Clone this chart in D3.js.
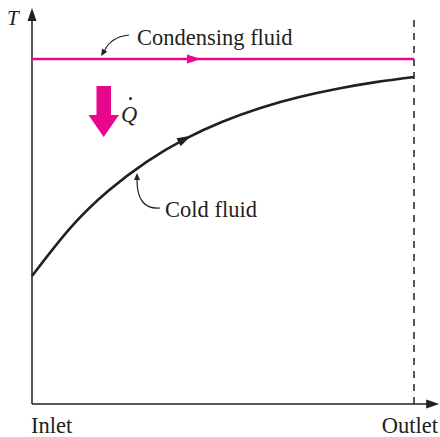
<!DOCTYPE html>
<html>
<head>
<meta charset="utf-8">
<script src="https://cdn.jsdelivr.net/npm/d3@7"></script>
<style>
  body { margin: 0; background: #fff; }
  svg text { font-family: "Liberation Serif", "Times New Roman", serif; fill: #231f20; }
</style>
</head>
<body>
<svg id="chart" width="440" height="437"></svg>
<script>
// position along the exchanger (0 = inlet, 1 = outlet)
var positions = [0, 0.1, 0.2, 0.3, 0.4, 0.5, 0.6, 0.7, 0.8, 0.9, 1];
// cold fluid temperature (arbitrary units)
var coldT = [37.1, 51.0, 61.8, 70.2, 76.8, 81.9, 85.9, 89.0, 91.4, 93.3, 94.8];
// condensing fluid stays at constant temperature
var condPositions = [0, 1];
var condT = [100, 100];
var xLabels = ["Inlet", "Outlet"];
var seriesLabels = ["Condensing fluid", "Cold fluid"];

var magenta = "#e8078a";
var ink = "#231f20";
var fontSize = 22.5;

var svg = d3.select("#chart");

var x = d3.scaleLinear().domain([0, 1]).range([32, 414]);
var y = d3.scaleLinear().domain([0, 100]).range([404, 59]);

var xAxisEnd = 1.066, yAxisEnd = 114.8;

/*
 * axes with arrow heads
 */
svg.append("line")
  .attr("x1", x(0)).attr("y1", y(0))
  .attr("x2", x(0)).attr("y2", y(yAxisEnd) + 10)
  .attr("stroke", ink).attr("stroke-width", 1.5);
svg.append("path")
  .attr("d", "M" + x(0) + "," + y(yAxisEnd) + "l-4.5,13l9,0z")
  .attr("fill", ink);

svg.append("line")
  .attr("x1", x(0)).attr("y1", y(0))
  .attr("x2", x(xAxisEnd) - 10).attr("y2", y(0))
  .attr("stroke", ink).attr("stroke-width", 1.5);
svg.append("path")
  .attr("d", "M" + x(xAxisEnd) + "," + y(0) + "l-13,-4.5l0,9z")
  .attr("fill", ink);

// outlet dashed line
svg.append("line")
  .attr("x1", x(1)).attr("y1", y(0))
  .attr("x2", x(1)).attr("y2", 19)
  .attr("stroke", ink).attr("stroke-width", 1.5)
  .attr("stroke-dasharray", "7,6");

var line = d3.line()
  .x(function(d) { return x(d[0]); })
  .y(function(d) { return y(d[1]); })
  .curve(d3.curveNatural);

// condensing fluid
var condPath = svg.append("path")
  .datum(d3.zip(condPositions, condT))
  .attr("d", line)
  .attr("fill", "none")
  .attr("stroke", magenta)
  .attr("stroke-width", 2.6);

// cold fluid
var coldPath = svg.append("path")
  .datum(d3.zip(positions, coldT))
  .attr("d", line)
  .attr("fill", "none")
  .attr("stroke", ink)
  .attr("stroke-width", 2.6);

/*
 * direction arrow placed on a path, tip at given x
 */
function flowArrow(path, tipX, color, len, half) {
  var node = path.node();
  var total = node.getTotalLength();
  var lo = 0, hi = total;
  for (var i = 0; i < 40; i++) {
    var mid = (lo + hi) / 2;
    if (node.getPointAtLength(mid).x < tipX) lo = mid; else hi = mid;
  }
  var p = node.getPointAtLength(lo);
  var q = node.getPointAtLength(Math.max(0, lo - len));
  var ang = Math.atan2(p.y - q.y, p.x - q.x) * 180 / Math.PI;
  svg.append("path")
    .attr("d", "M0,0L" + (-len) + "," + (-half) + "L" + (-len) + "," + half + "Z")
    .attr("transform", "translate(" + p.x + "," + p.y + ") rotate(" + ang + ")")
    .attr("fill", color);
}
flowArrow(condPath, 201, magenta, 14, 4.5);
flowArrow(coldPath, 191, ink, 14, 4.5);

// big heat-flow arrow
svg.append("path")
  .attr("d", "M96.5,86 L111,86 L111,115 L119,115 L103.7,137 L88.5,115 L96.5,115 Z")
  .attr("fill", magenta);

// Q dot
svg.append("text")
  .attr("x", 121).attr("y", 122)
  .attr("font-size", fontSize).attr("font-style", "italic")
  .text("Q");
svg.append("circle")
  .attr("cx", 130.5).attr("cy", 98.5).attr("r", 1.5)
  .attr("fill", ink);

// T label
svg.append("text")
  .attr("x", 7).attr("y", 25)
  .attr("font-size", 21).attr("font-style", "italic")
  .text("T");

// series labels with leader arrows
function leader(d, tip, dir) {
  svg.append("path")
    .attr("d", d)
    .attr("fill", "none")
    .attr("stroke", ink)
    .attr("stroke-width", 1.2);
  svg.append("path")
    .attr("d", "M0,0L-7,-3L-7,3Z")
    .attr("transform", "translate(" + tip[0] + "," + tip[1] + ") rotate(" + dir + ")")
    .attr("fill", ink);
}

svg.append("text")
  .attr("x", 137).attr("y", 45)
  .attr("font-size", fontSize)
  .text(seriesLabels[0]);
leader("M129,35 Q110,37 104,52", [101, 56], 122);

svg.append("text")
  .attr("x", 165).attr("y", 217)
  .attr("font-size", fontSize)
  .text(seriesLabels[1]);
leader("M160,208 Q137,210 137,180", [137, 173], -90);

// x labels
svg.append("text")
  .attr("x", x(0) - 1).attr("y", 433)
  .attr("font-size", fontSize)
  .text(xLabels[0]);
svg.append("text")
  .attr("x", x(1) + 24).attr("y", 433)
  .attr("text-anchor", "end")
  .attr("font-size", fontSize)
  .text(xLabels[1]);
</script>
</body>
</html>
